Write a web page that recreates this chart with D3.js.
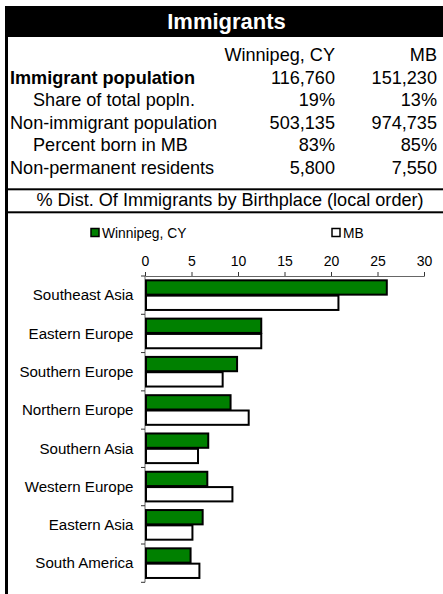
<!DOCTYPE html>
<html>
<head>
<meta charset="utf-8">
<script src="https://cdn.jsdelivr.net/npm/d3@7"></script>
<style>
  body { margin: 0; background: #fff; }
  svg { display: block; font-family: "Liberation Sans", Arial, sans-serif; }
</style>
</head>
<body>
<div id="chart"></div>
<script>
// table
const tableTitle = 'Immigrants';
const columnNames = ['Winnipeg, CY', 'MB'];
const rowLabels = ['Immigrant population', 'Share of total popln.', 'Non-immigrant population', 'Percent born in MB', 'Non-permanent residents'];
const winnipegValues = ['116,760', '19%', '503,135', '83%', '5,800'];
const mbValues = ['151,230', '13%', '974,735', '85%', '7,550'];
const chartTitle = '% Dist. Of Immigrants by Birthplace (local order)';

// bar chart
const regions = ['Southeast Asia', 'Eastern Europe', 'Southern Europe', 'Northern Europe', 'Southern Asia', 'Western Europe', 'Eastern Asia', 'South America'];
const winnipegShare = [26.0, 12.5, 9.9, 9.2, 6.8, 6.7, 6.2, 4.9];
const mbShare = [20.8, 12.5, 8.35, 11.15, 5.7, 9.4, 5.1, 5.85];
const seriesNames = ['Winnipeg, CY', 'MB'];
const xTicks = [0, 5, 10, 15, 20, 25, 30];

const W = 443, H = 594;
const left = 5;
const fs = 18.1;

const svg = d3.select('#chart').append('svg')
  .attr('width', W)
  .attr('height', H);

// frame: title bar, left border, separators
svg.append('rect').attr('x', left).attr('y', 6).attr('width', W - left).attr('height', 31).attr('fill', '#000');
svg.append('rect').attr('x', left).attr('y', 6).attr('width', 3).attr('height', H - 6).attr('fill', '#000');
[188.3, 211.3].forEach(y => {
  svg.append('rect').attr('x', left).attr('y', y).attr('width', W - left).attr('height', 2).attr('fill', '#000');
});

svg.append('text')
  .attr('x', 226.5).attr('y', 29)
  .attr('text-anchor', 'middle')
  .attr('fill', '#fff')
  .attr('font-weight', 'bold')
  .attr('font-size', 22)
  .text(tableTitle);

const colX = [335, 437];
const rowY = d3.scaleLinear().domain([0, 1]).range([61, 83.5]);

columnNames.forEach((c, j) => {
  svg.append('text').attr('x', colX[j]).attr('y', rowY(0))
    .attr('text-anchor', 'end').attr('font-size', fs).text(c);
});

const boldRows = [0];
const indentRows = [1, 3];
rowLabels.forEach((lab, i) => {
  const y = rowY(i + 1);
  svg.append('text')
    .attr('x', indentRows.includes(i) ? 33 : 10)
    .attr('y', y)
    .attr('font-size', fs)
    .attr('font-weight', boldRows.includes(i) ? 'bold' : 'normal')
    .text(lab);
  [winnipegValues[i], mbValues[i]].forEach((v, j) => {
    svg.append('text').attr('x', colX[j]).attr('y', y)
      .attr('text-anchor', 'end').attr('font-size', fs).text(v);
  });
});

svg.append('text')
  .attr('x', 230).attr('y', 206)
  .attr('text-anchor', 'middle')
  .attr('font-size', fs)
  .text(chartTitle);

// legend
const legendX = [91, 332];
const fills = ['#008000', '#ffffff'];
seriesNames.forEach((s, j) => {
  svg.append('rect').attr('x', legendX[j]).attr('y', 228.5).attr('width', 8).attr('height', 8)
    .attr('fill', fills[j]).attr('stroke', '#000').attr('stroke-width', 1.5);
  svg.append('text').attr('x', legendX[j] + 11).attr('y', 237.5)
    .attr('font-size', 13.8).text(s);
});

// scales
const x = d3.scaleLinear().domain([0, 30]).range([145, 424]);
const y = d3.scaleBand().domain(regions).range([276, 582.3]).paddingInner(0.2).paddingOuter(0.1);
const sub = d3.scaleBand().domain(seriesNames).range([0, y.bandwidth()]);

// top axis
const xAxis = svg.append('g')
  .attr('transform', 'translate(0,276)')
  .call(d3.axisTop(x).tickValues(xTicks).tickSize(4).tickPadding(6));
xAxis.select('.domain').attr('stroke', '#666');
xAxis.selectAll('.tick line').attr('stroke', '#333');
xAxis.selectAll('text').attr('font-size', 14).attr('fill', '#000')
  .attr('font-family', '"Liberation Sans", Arial, sans-serif');

// left axis with ticks between categories
const yg = svg.append('g');
yg.append('line').attr('x1', x(0)).attr('x2', x(0))
  .attr('y1', y.range()[0]).attr('y2', y.range()[1]).attr('stroke', '#666');
d3.range(regions.length + 1).forEach(i => {
  const yy = y.range()[0] + i * y.step();
  yg.append('line').attr('x1', x(0) - 4).attr('x2', x(0)).attr('y1', yy).attr('y2', yy).attr('stroke', '#333');
});
regions.forEach(r => {
  yg.append('text')
    .attr('x', 133.5)
    .attr('y', y(r) + y.bandwidth() / 2)
    .attr('dy', '0.35em')
    .attr('text-anchor', 'end')
    .attr('font-size', 15.1)
    .text(r);
});

// bars
const rows = regions.map((r, i) => ({ region: r, values: [winnipegShare[i], mbShare[i]] }));
const groups = svg.selectAll('.grp').data(rows).join('g')
  .attr('class', 'grp')
  .attr('transform', d => `translate(0,${y(d.region)})`);
groups.selectAll('rect')
  .data(d => d.values.map((v, j) => ({ key: seriesNames[j], v, j })))
  .join('rect')
  .attr('x', x(0) + 1)
  .attr('y', d => sub(d.key) + 0.5)
  .attr('width', d => x(d.v) - x(0) - 1)
  .attr('height', sub.bandwidth() - 1)
  .attr('fill', d => fills[d.j])
  .attr('stroke', '#000')
  .attr('stroke-width', 2);
</script>
</body>
</html>
